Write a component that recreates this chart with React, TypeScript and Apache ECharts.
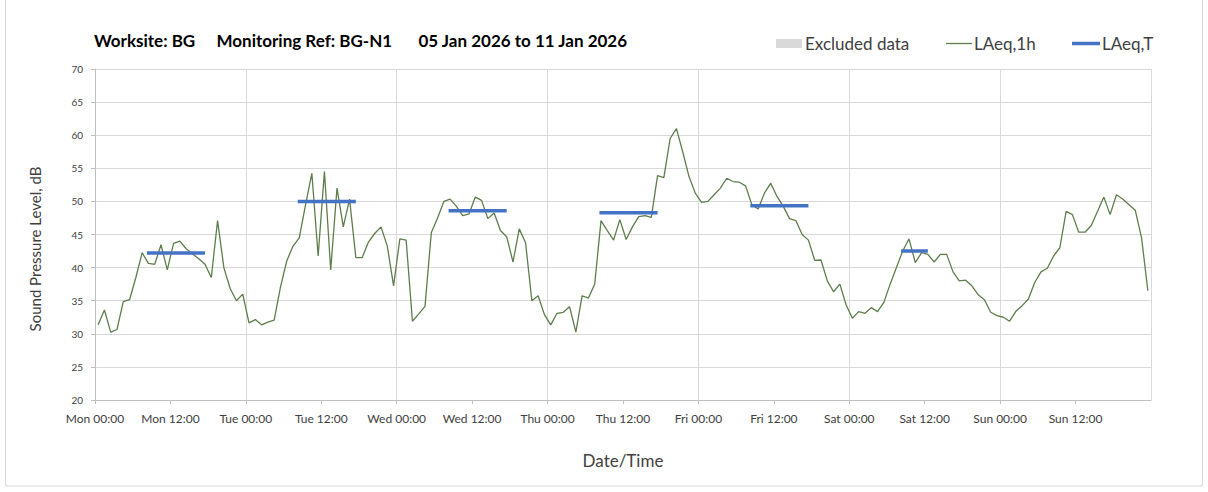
import React, { useEffect, useRef } from "react";
import * as echarts from "echarts";

const dayNames = ["Mon", "Tue", "Wed", "Thu", "Fri", "Sat", "Sun"];

const titleParts = ["Worksite: BG", "Monitoring Ref: BG-N1", "05 Jan 2026 to 11 Jan 2026"];
const yAxisName = "Sound Pressure Level, dB";

// hourly LAeq,1h values, Mon 00:00 .. Sun 23:00 (plotted at mid-hour)
const laeq1hMon = [31.35, 33.6, 30.25, 30.65, 34.85, 35.15, 38.5, 42.25, 40.65, 40.5, 43.45, 39.65, 43.65, 44.0, 42.85, 42.1, 41.35, 40.5, 38.5, 47.1, 40.0, 36.85, 35.0, 36.0];
const laeq1hTue = [31.65, 32.15, 31.35, 31.75, 32.05, 37.0, 41.0, 43.25, 44.5, 49.5, 54.25, 41.75, 54.5, 39.65, 52.0, 46.15, 50.35, 41.5, 41.5, 43.85, 45.15, 46.15, 43.25, 37.25];
const laeq1hWed = [44.35, 44.15, 31.9, 33.0, 34.15, 45.25, 47.5, 50.0, 50.35, 49.25, 47.85, 48.1, 50.65, 50.15, 47.4, 48.25, 45.6, 44.65, 40.85, 45.85, 43.75, 35.0, 35.75, 32.9];
const laeq1hThu = [31.35, 33.1, 33.25, 34.1, 30.25, 35.75, 35.4, 37.5, 47.1, 45.6, 44.15, 47.25, 44.25, 46.15, 47.7, 47.85, 47.6, 53.9, 53.6, 59.5, 61.0, 57.5, 53.75, 51.25];
const laeq1hFri = [49.85, 50.0, 51.0, 52.0, 53.5, 53.0, 52.9, 52.35, 49.5, 48.85, 51.25, 52.75, 50.75, 49.25, 47.4, 47.1, 45.0, 44.15, 41.1, 41.15, 38.0, 36.35, 37.5, 34.35];
const laeq1hSat = [32.35, 33.35, 33.1, 33.95, 33.35, 34.75, 37.5, 40.0, 42.5, 44.35, 40.75, 42.25, 42.0, 40.85, 42.0, 42.0, 39.35, 38.0, 38.1, 37.25, 35.9, 35.15, 33.25, 32.75];
const laeq1hSun = [32.5, 31.9, 33.4, 34.25, 35.25, 37.75, 39.35, 39.9, 41.75, 43.0, 48.5, 48.0, 45.35, 45.35, 46.35, 48.5, 50.65, 48.0, 51.0, 50.35, 49.5, 48.65, 44.5, 36.5];

// LAeq,T daytime periods (hours from Mon 00:00)
const ltStart = [8.25, 32.25, 56.25, 80.25, 104.25, 128.25];
const ltEnd = [17.5, 41.5, 65.5, 89.5, 113.5, 132.5];
const ltValue = [42.2, 50.0, 48.6, 48.3, 49.35, 42.5];

const yTicks = { min: 20, max: 70, step: 5 };

export default function App() {
  const ref = useRef<HTMLDivElement>(null);

  useEffect(() => {
    document.body.style.margin = "0";
    if (!ref.current) return;
    const chart = echarts.init(ref.current, undefined, { renderer: "svg" });

    const all = [
      ...laeq1hMon, ...laeq1hTue, ...laeq1hWed, ...laeq1hThu,
      ...laeq1hFri, ...laeq1hSat, ...laeq1hSun,
    ];
    const lineData = all.map((v, i) => [i + 0.5, v]);

    const font = "Lato, 'Open Sans', sans-serif";
    const txt = "#404040";

    const ltSeries = ltValue.map((v, i) => ({
      name: "LAeq,T",
      type: "line",
      xAxisIndex: 0,
      data: [[ltStart[i], v], [ltEnd[i], v]],
      symbol: "none",
      z: 4,
      lineStyle: { color: "#4472c4", width: 3.5, cap: "butt" },
      itemStyle: { color: "#4472c4" },
    }));

    const legendText = { fontSize: 17, color: txt, fontFamily: font };

    chart.setOption({
      animation: false,
      backgroundColor: "#ffffff",
      textStyle: { fontFamily: font },
      grid: { left: 95, right: 57, top: 69, bottom: 92 },
      graphic: [
        {
          type: "rect",
          shape: { x: 5.5, y: -2, width: 1197, height: 488 },
          style: { fill: "none", stroke: "#d9d9d9", lineWidth: 1 },
          silent: true,
        },
        {
          type: "text", x: 94, y: 40,
          style: { text: titleParts[0], font: `bold 17px ${font}`, fill: "#000", verticalAlign: "middle" },
        },
        {
          type: "text", x: 216.5, y: 40,
          style: { text: titleParts[1], font: `bold 17px ${font}`, fill: "#000", verticalAlign: "middle" },
        },
        {
          type: "text", x: 418.5, y: 40,
          style: { text: titleParts[2], font: `bold 17px ${font}`, fill: "#000", verticalAlign: "middle" },
        },
        {
          type: "text", x: 35, y: 249, rotation: Math.PI / 2,
          style: { text: yAxisName, font: `15px ${font}`, fill: txt, align: "center", verticalAlign: "middle" },
        },
      ],
      legend: [
        {
          data: [{ name: "Excluded data", icon: "rect" }], left: 776, top: 35, padding: 0,
          itemWidth: 26, itemHeight: 9, selectedMode: false,
          textStyle: { ...legendText, padding: [0, 0, 0, -2] },
        },
        {
          data: [{ name: "LAeq,1h", icon: "rect" }], left: 946, top: 35, padding: 0,
          itemWidth: 26, itemHeight: 1.3, selectedMode: false,
          textStyle: { ...legendText, padding: [0, 0, 0, -3] },
        },
        {
          data: [{ name: "LAeq,T", icon: "rect" }], left: 1072, top: 35, padding: 0,
          itemWidth: 28, itemHeight: 3.5, selectedMode: false,
          textStyle: { ...legendText, padding: [0, 0, 0, -3] },
        },
      ],
      xAxis: [
        {
          type: "value", min: 0, max: 168, interval: 12,
          name: "Date/Time", nameLocation: "middle", nameGap: 52,
          nameTextStyle: { fontSize: 17, color: txt, fontFamily: font },
          axisLine: { show: true, lineStyle: { color: "#bfbfbf" } },
          axisTick: { show: true, length: 4, lineStyle: { color: "#bfbfbf" } },
          axisLabel: {
            margin: 12, fontSize: 12, color: txt, fontFamily: font,
            showMaxLabel: false,
            formatter: (v: number) => {
              if (v >= 168) return "";
              const d = dayNames[Math.floor(v / 24)];
              const h = v % 24 === 0 ? "00" : "12";
              return `${d} ${h}:00`;
            },
          },
          splitLine: { show: false },
        },
        {
          type: "value", min: 0, max: 168, interval: 24, position: "top",
          axisLine: { show: false }, axisTick: { show: false }, axisLabel: { show: false },
          splitLine: { show: true, lineStyle: { color: "#d9d9d9" } },
        },
      ],
      yAxis: {
        type: "value", min: yTicks.min, max: yTicks.max, interval: yTicks.step,
        axisLine: { show: true, lineStyle: { color: "#bfbfbf" } },
        axisTick: { show: true, length: 4, lineStyle: { color: "#bfbfbf" } },
        axisLabel: { margin: 12, fontSize: 10, color: txt, fontFamily: font },
        splitLine: { show: true, lineStyle: { color: "#d9d9d9" } },
      },
      series: [
        {
          name: "Excluded data", type: "bar", data: [],
          itemStyle: { color: "#d9d9d9" },
        },
        {
          name: "LAeq,1h", type: "line", xAxisIndex: 0, data: lineData,
          symbol: "none", z: 3,
          lineStyle: { color: "#5e7d4c", width: 1.3 },
          itemStyle: { color: "#5e7d4c" },
        },
        ...ltSeries,
      ],
    });

    return () => chart.dispose();
  }, []);

  return <div ref={ref} style={{ width: 1208, height: 492 }} />;
}
